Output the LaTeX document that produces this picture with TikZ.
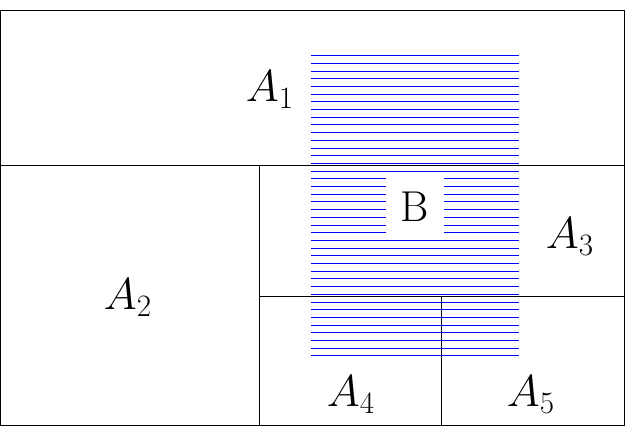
\documentclass[tikz,border=0pt]{standalone}
\begin{document}
\begin{tikzpicture}[x=1pt,y=-1pt,lab/.style={font=\fontsize{24}{28}\selectfont,scale=1.8},line width=0.8pt]
\useasboundingbox (0,0) rectangle (638,438);
\draw (0,10) rectangle (624,425);
\draw (0,165) -- (624,165);
\draw (259,165) -- (259,425);
\draw (259,296) -- (624,296);
\draw (441,296) -- (441,425);
\foreach \i in {0,...,39} \draw[blue,line width=0.6pt] (311,{55.5+\i*7.7}) -- (519,{55.5+\i*7.7});
\node[fill=white,inner sep=0pt,minimum width=32pt,minimum height=32pt,lab] (b) at (415,207) {B};
\node[lab] (a1) at (270,90) {$A_1$};
\node[lab] (a2) at (128,298) {$A_2$};
\node[lab] (a3) at (570,237) {$A_3$};
\node[lab] (a4) at (351,395) {$A_4$};
\node[lab] (a5) at (531,395) {$A_5$};
\end{tikzpicture}
\end{document}
